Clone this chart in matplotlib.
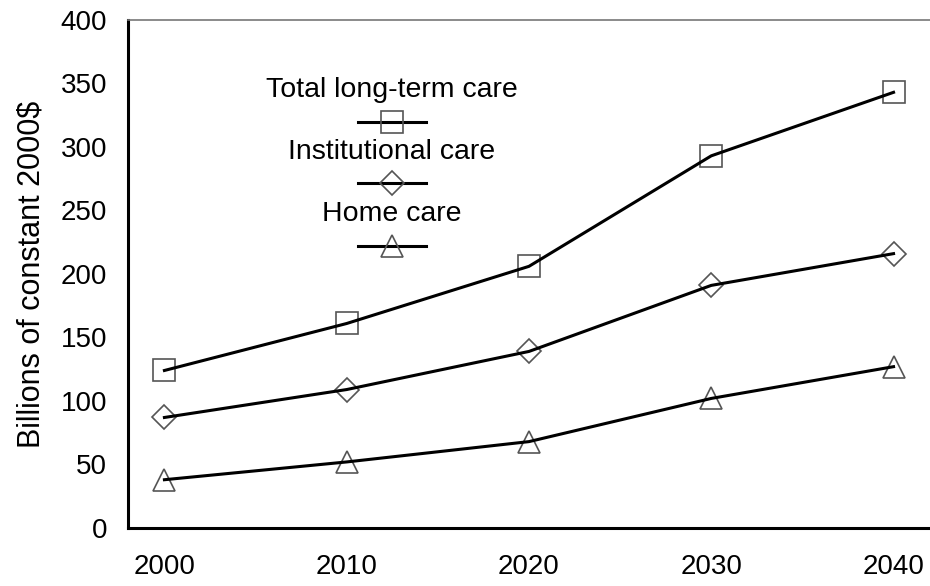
import matplotlib
matplotlib.use("Agg")
import matplotlib.pyplot as plt

plt.rcParams["font.family"] = ["Liberation Sans", "DejaVu Sans"]

years = [2000, 2010, 2020, 2030, 2040]
total_care = [124, 161, 206, 293, 343]
institutional_care = [87, 109, 139, 191, 216]
home_care = [38, 52, 68, 102, 127]

series = [
    ("Total long-term care", total_care, "s", 16),
    ("Institutional care", institutional_care, "D", 12),
    ("Home care", home_care, "^", 16),
]

fig = plt.figure(figsize=(9.3, 5.86), dpi=100)
ax = fig.add_axes([0.1376, 0.099, 0.8624, 0.867])

for name, values, marker, size in series:
    ax.plot(years, values, color="black", linewidth=2.2, zorder=3)
    ax.plot(years, values, linestyle="none", marker=marker, markersize=size,
            markerfacecolor="none", markeredgecolor="#555555",
            markeredgewidth=1.2, zorder=2)

ax.set_xlim(1998, 2042)
ax.set_ylim(0, 400)
ax.set_xticks(years)
ax.set_yticks(range(0, 401, 50))
ax.tick_params(length=0, labelsize=20)
ax.tick_params(axis="y", pad=15)
ax.tick_params(axis="x", pad=19)
ax.set_ylabel("Billions of constant 2000$", fontsize=22, labelpad=10)

for side in ["left", "bottom"]:
    ax.spines[side].set_linewidth(2.2)
ax.spines["top"].set_linewidth(1.2)
ax.spines["top"].set_color("#777777")
ax.spines["right"].set_visible(False)

# legend drawn by hand: label above a short line with the marker
legend_x = 0.329
label_y = [0.862, 0.740, 0.618]
line_y = [0.800, 0.679, 0.555]
for (name, values, marker, size), ty, ly in zip(series, label_y, line_y):
    ax.text(legend_x, ty, name, transform=ax.transAxes, ha="center",
            va="center", fontsize=20.5)
    ax.plot([legend_x - 0.042, legend_x + 0.042], [ly, ly], color="black",
            linewidth=2.2, transform=ax.transAxes, clip_on=False)
    ax.plot([legend_x], [ly], marker=marker, markersize=size,
            markerfacecolor="none", markeredgecolor="#555555",
            markeredgewidth=1.2, transform=ax.transAxes, clip_on=False)

fig.savefig("out.png", dpi=100)
